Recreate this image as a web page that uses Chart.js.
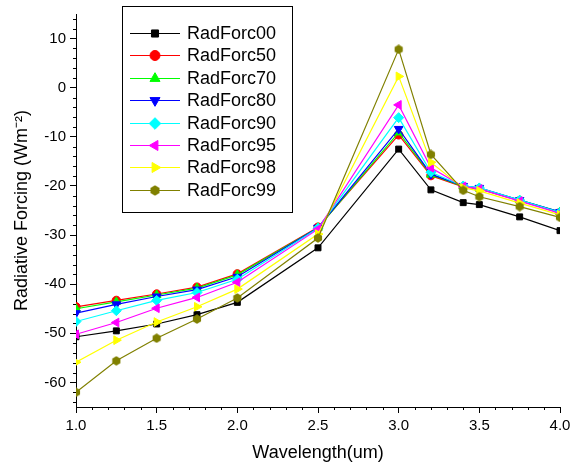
<!DOCTYPE html>
<html>
<head>
<meta charset="utf-8">
<script src="https://cdn.jsdelivr.net/npm/chart.js@4"></script>
<style>
html,body{margin:0;padding:0;background:#fff;}
canvas{display:block;}
</style>
</head>
<body>
<canvas id="c" width="571" height="470"></canvas>
<script>
const wavelength = [1.0, 1.25, 1.5, 1.75, 2.0, 2.5, 3.0, 3.2, 3.4, 3.5, 3.75, 4.0];
const seriesNames = ['RadForc00','RadForc50','RadForc70','RadForc80','RadForc90','RadForc95','RadForc98','RadForc99'];
const radForc00 = [-50.7, -49.5, -48.1, -46.2, -43.7, -32.6, -12.5, -20.8, -23.4, -23.8, -26.3, -29.1];
const radForc50 = [-44.6, -43.3, -42.0, -40.6, -37.9, -28.4, -9.6, -17.9, -20.2, -20.6, -23.0, -25.4];
const radForc70 = [-45.0, -43.6, -42.2, -40.8, -38.1, -28.5, -9.1, -17.7, -20.1, -20.5, -22.9, -25.3];
const radForc80 = [-45.9, -44.1, -42.5, -41.1, -38.5, -28.5, -8.4, -17.6, -20.0, -20.4, -22.9, -25.3];
const radForc90 = [-47.6, -45.4, -43.3, -41.7, -39.0, -28.6, -6.1, -17.2, -20.0, -20.4, -22.9, -25.4];
const radForc95 = [-50.2, -47.8, -44.9, -42.7, -39.6, -28.8, -3.5, -16.3, -20.1, -20.6, -23.1, -25.6];
const radForc98 = [-55.9, -51.4, -47.7, -44.6, -41.0, -29.8, 2.3, -15.2, -20.4, -21.0, -23.5, -25.9];
const radForc99 = [-62.0, -55.6, -51.0, -47.1, -42.8, -30.6, 7.8, -13.6, -20.9, -22.2, -24.2, -26.4];
const xTicks = [1.0, 1.5, 2.0, 2.5, 3.0, 3.5, 4.0];
const yTicks = [-60, -50, -40, -30, -20, -10, 0, 10];

const allSeries = [radForc00, radForc50, radForc70, radForc80, radForc90, radForc95, radForc98, radForc99];
const colors = ['#000000','#ff0000','#00ff00','#0000ff','#00ffff','#ff00ff','#ffff00','#808000'];

function makeHex(color, d) {
  const cv = document.createElement('canvas');
  cv.width = d; cv.height = d;
  const g = cv.getContext('2d');
  const r = d / 2;
  g.beginPath();
  for (let k = 0; k < 6; k++) {
    const a = Math.PI / 6 + k * Math.PI / 3;
    const px = r + (r - 0.3) * Math.cos(a), py = r + (r - 0.3) * Math.sin(a);
    if (k === 0) g.moveTo(px, py); else g.lineTo(px, py);
  }
  g.closePath();
  g.fillStyle = color;
  g.fill();
  return cv;
}
const hexImg = makeHex('#808000', 10);
const hexImgLegend = makeHex('#808000', 11);

const styles = [
  {ps: 'rect', rot: 0, r: 4.2},
  {ps: 'circle', rot: 0, r: 4.2},
  {ps: 'triangle', rot: 0, r: 5},
  {ps: 'triangle', rot: 180, r: 5},
  {ps: 'rectRot', rot: 0, r: 5},
  {ps: 'triangle', rot: -90, r: 5},
  {ps: 'triangle', rot: 90, r: 5},
  {ps: hexImg, rot: 0, r: 5}
];

const datasets = allSeries.map((vals, i) => ({
  label: seriesNames[i],
  data: wavelength.map((x, j) => ({x: x, y: vals[j]})),
  borderColor: colors[i],
  backgroundColor: colors[i],
  borderWidth: 1.2,
  pointStyle: styles[i].ps,
  pointRotation: styles[i].rot,
  pointRadius: styles[i].r,
  pointBorderWidth: 1,
  pointBorderColor: colors[i],
  pointBackgroundColor: colors[i],
  tension: 0,
  order: 7 - i
}));

const FONT = "'Liberation Sans', Arial, sans-serif";

const minorTicks = {
  id: 'minorTicks',
  afterDraw(chart) {
    const ctx = chart.ctx;
    const xs = chart.scales.x, ys = chart.scales.y;
    ctx.save();
    ctx.strokeStyle = '#000';
    ctx.lineWidth = 1;
    ctx.beginPath();
    for (let k = 10; k <= 40; k++) {
      if (k % 5 === 0) continue;
      const px = Math.round(xs.getPixelForValue(k / 10)) + 0.5;
      ctx.moveTo(px, xs.top);
      ctx.lineTo(px, xs.top + 3);
    }
    for (let v = -64; v <= 14; v += 2) {
      if (v % 10 === 0) continue;
      const py = Math.round(ys.getPixelForValue(v)) + 0.5;
      ctx.moveTo(ys.right, py);
      ctx.lineTo(ys.right - 3, py);
    }
    ctx.stroke();
    ctx.restore();
  }
};

const boxLegend = {
  id: 'boxLegend',
  afterDatasetsDraw(chart) {
    const ctx = chart.ctx;
    const bx = 122, by = 6, bw = 170, bh = 206;
    ctx.save();
    ctx.fillStyle = '#fff';
    ctx.fillRect(bx, by, bw, bh);
    ctx.strokeStyle = '#000';
    ctx.lineWidth = 1;
    ctx.strokeRect(bx + 0.5, by + 0.5, bw, bh);
    ctx.font = '18px ' + FONT;
    ctx.textBaseline = 'middle';
    ctx.textAlign = 'left';
    chart.data.datasets.forEach((ds, i) => {
      const y = Math.round(33 + i * 22.4) + 0.5;
      ctx.strokeStyle = ds.borderColor;
      ctx.lineWidth = 1.2;
      ctx.beginPath();
      ctx.moveTo(130, y);
      ctx.lineTo(180, y);
      ctx.stroke();
      ctx.fillStyle = ds.borderColor;
      ctx.strokeStyle = ds.borderColor;
      ctx.lineWidth = 1;
      const st = ds.pointStyle === hexImg ? hexImgLegend : ds.pointStyle;
      Chart.helpers.drawPoint(ctx, {pointStyle: st, rotation: ds.pointRotation, radius: ds.pointRadius + 0.8, borderWidth: 1}, 155, y);
      ctx.fillStyle = '#000';
      ctx.fillText(ds.label, 187, y + 1);
    });
    ctx.restore();
  }
};

new Chart(document.getElementById('c'), {
  type: 'line',
  data: {datasets: datasets},
  plugins: [minorTicks, boxLegend],
  options: {
    responsive: false,
    animation: false,
    devicePixelRatio: 1,
    layout: {padding: {top: 14, right: 11, left: 0, bottom: 0}},
    plugins: {legend: {display: false}, tooltip: {enabled: false}},
    scales: {
      x: {
        type: 'linear',
        min: 1, max: 4,
        afterFit(s) { s.height = 63; s.paddingRight = 0; s.paddingLeft = 0; },
        afterBuildTicks(s) { s.ticks = xTicks.map(v => ({value: v})); },
        ticks: {
          color: '#000', font: {family: FONT, size: 15}, padding: 4,
          maxRotation: 0, autoSkip: false,
          callback: v => Number(v).toFixed(1)
        },
        grid: {drawOnChartArea: false, tickLength: 6, color: '#000', tickColor: '#000'},
        border: {color: '#000', width: 1},
        title: {display: true, text: 'Wavelength(um)', color: '#000', font: {family: FONT, size: 18}, padding: {top: 0, bottom: 6}}
      },
      y: {
        type: 'linear',
        min: -65, max: 15,
        afterFit(s) { s.width = 76; s.paddingTop = 0; s.paddingBottom = 0; },
        afterBuildTicks(s) { s.ticks = yTicks.map(v => ({value: v})); },
        ticks: {
          color: '#000', font: {family: FONT, size: 15}, padding: 4,
          autoSkip: false,
          callback: v => String(v)
        },
        grid: {drawOnChartArea: false, tickLength: 6, color: '#000', tickColor: '#000'},
        border: {color: '#000', width: 1},
        title: {display: true, text: 'Radiative Forcing (Wm\u207B\u00B2)', color: '#000', font: {family: FONT, size: 18}, padding: {top: 11, bottom: 0}}
      }
    }
  }
});
</script>
</body>
</html>
